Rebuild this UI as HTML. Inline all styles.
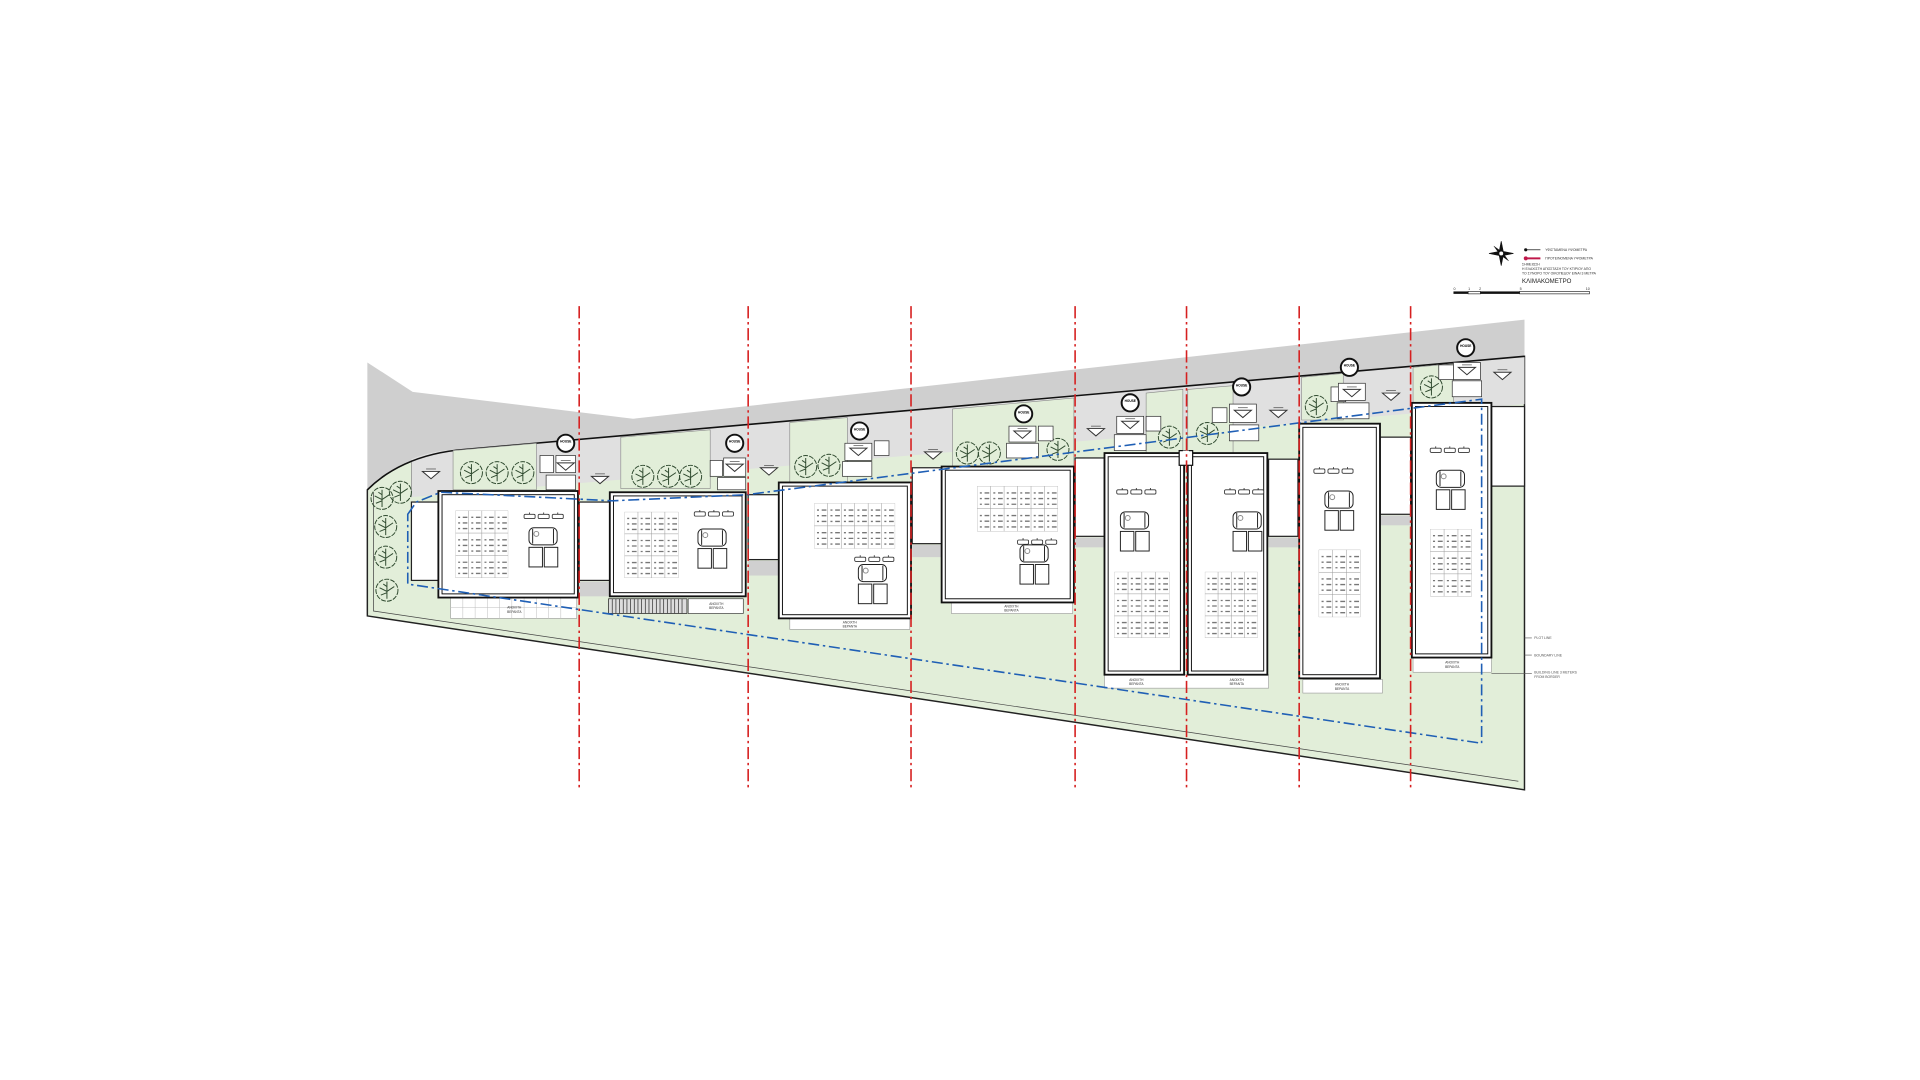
<!DOCTYPE html>
<html><head><meta charset="utf-8"><style>
html,body{margin:0;padding:0;background:#fff;width:1920px;height:1080px;overflow:hidden}
svg{display:block}
text{font-family:"Liberation Sans",sans-serif}
</style></head><body>
<svg width="1920" height="1080" viewBox="0 0 1568 882" xmlns="http://www.w3.org/2000/svg">
<defs>
<symbol id="g43" viewBox="0 0 4 3" preserveAspectRatio="none"><rect x="0" y="0" width="4" height="3" fill="#fff"/><path d="M0 0.3H4M0 0.55H4M0 0.8H4M0 1.3H4M0 1.55H4M0 1.8H4M0 2.3H4M0 2.55H4M0 2.8H4" stroke="#777" stroke-width="0.06" stroke-dasharray="0.15 0.2 0.35 0.3" stroke-dashoffset="-0.2"/><g fill="none" stroke="#999"><rect x="0" y="0" width="4" height="3" vector-effect="non-scaling-stroke" stroke-width="0.5"/><path d="M1 0V3M2 0V3M3 0V3M0 1H4M0 2H4" vector-effect="non-scaling-stroke" stroke-width="0.5"/></g></symbol>
<symbol id="g62" viewBox="0 0 6 2" preserveAspectRatio="none"><rect x="0" y="0" width="6" height="2" fill="#fff"/><path d="M0 0.3H6M0 0.55H6M0 0.8H6M0 1.3H6M0 1.55H6M0 1.8H6" stroke="#777" stroke-width="0.06" stroke-dasharray="0.15 0.2 0.35 0.3" stroke-dashoffset="-0.2"/><g fill="none" stroke="#999"><rect x="0" y="0" width="6" height="2" vector-effect="non-scaling-stroke" stroke-width="0.5"/><path d="M1 0V2M2 0V2M3 0V2M4 0V2M5 0V2M0 1H6" vector-effect="non-scaling-stroke" stroke-width="0.5"/></g></symbol>
<symbol id="g33" viewBox="0 0 3 3" preserveAspectRatio="none"><rect x="0" y="0" width="3" height="3" fill="#fff"/><path d="M0 0.3H3M0 0.55H3M0 0.8H3M0 1.3H3M0 1.55H3M0 1.8H3M0 2.3H3M0 2.55H3M0 2.8H3" stroke="#777" stroke-width="0.06" stroke-dasharray="0.15 0.2 0.35 0.3" stroke-dashoffset="-0.2"/><g fill="none" stroke="#999"><rect x="0" y="0" width="3" height="3" vector-effect="non-scaling-stroke" stroke-width="0.5"/><path d="M1 0V3M2 0V3M0 1H3M0 2H3" vector-effect="non-scaling-stroke" stroke-width="0.5"/></g></symbol>
<g id="pv" fill="#fff" stroke="#333" stroke-width="0.7"><rect x="0" y="0" width="9" height="3.5" rx="1"/><rect x="11.5" y="0" width="9" height="3.5" rx="1"/><rect x="23" y="0" width="9" height="3.5" rx="1"/><path d="M4.5 0v-1.5M16 0v-1.5M27.5 0v-1.5"/></g>
<g id="bed" fill="#fff" stroke="#222" stroke-width="0.8"><rect x="0" y="0" width="23" height="14" rx="4"/><path d="M3 1v12M20 1v12"/><circle cx="6" cy="5" r="2" stroke="#888"/><rect x="0" y="16" width="11" height="16"/><rect x="12.5" y="16" width="11" height="16"/></g>
<g id="arr" fill="#fff" stroke="#333" stroke-width="0.8"><path d="M-7 -2h14l-7 6z"/><path d="M-4 -4h8" stroke-width="0.5"/></g>
<g id="tree" fill="none" stroke="#2f4a2f" stroke-width="0.8"><circle r="9" stroke-dasharray="4 1"/><path d="M0 -7v14M-6 -2l6 3 6-4M-5 4l5-2M-3 -5l3 2"/></g>
<g id="hc"><circle r="7" fill="#fff" stroke="#111" stroke-width="1.6"/><text y="-0.5" font-size="2.6" text-anchor="middle" font-weight="bold">HOUSE</text></g>
</defs>

<!-- site green -->
<path d="M300 400 C 315 385, 340 370, 380 367 L1245 291 L1245 645 L300 503 Z" fill="#e2eed9" stroke="#222" stroke-width="1.2"/>
<path d="M305 402 L305 499 L1240 638" fill="none" stroke="#444" stroke-width="0.6"/>
<!-- road -->
<path d="M300 296 L337 320 L517 342 L1245 261 L1245 291 L380 367 C 340 370, 315 385, 300 400 Z" fill="#cfcfcf"/>
<!-- gray bay band -->
<path d="M336 406 L336 375 C 350 369, 365 367, 380 367 L1245 291 L1245 330 Z" fill="#e0e0e0" stroke="none"/>
<path d="M336 376 L336 406" stroke="#777" stroke-width="0.5"/>
<path d="M300 400 C 315 385, 340 370, 380 367 L1245 291" fill="none" stroke="#111" stroke-width="1.3"/>
<!-- gardens -->
<g fill="#e2eed9" stroke="#888" stroke-width="0.5">
<path d="M370 368 L438 362 L438 400 L370 400Z"/>
<path d="M507 357 L580 351 L580 399 L507 399Z"/>
<path d="M645 345 L692 341 L692 394 L645 394Z"/>
<path d="M778 334 L877 325 L877 381 L778 381Z"/>
<path d="M936 321 L966 318 L966 370 L936 370Z"/>
<path d="M970 318 L1007 315 L1007 370 L970 370Z"/>
<path d="M1063 308 L1097 305 L1097 343 L1063 343Z"/>
<path d="M1154 300 L1187 297 L1187 330 L1154 330Z"/>
</g>
<!-- trees -->
<g>
<use href="#tree" x="312" y="407"/><use href="#tree" x="327" y="402"/><use href="#tree" x="315" y="430"/><use href="#tree" x="315" y="455"/><use href="#tree" x="316" y="482"/>
<use href="#tree" x="385" y="386"/><use href="#tree" x="406" y="386"/><use href="#tree" x="427" y="386"/>
<use href="#tree" x="525" y="389"/><use href="#tree" x="546" y="389"/><use href="#tree" x="564" y="389"/>
<use href="#tree" x="658" y="381"/><use href="#tree" x="677" y="380"/>
<use href="#tree" x="790" y="370"/><use href="#tree" x="808" y="370"/><use href="#tree" x="864" y="367"/>
<use href="#tree" x="955" y="357"/><use href="#tree" x="986" y="354"/>
<use href="#tree" x="1075" y="332"/><use href="#tree" x="1169" y="316"/>
</g>
<!-- small service boxes -->
<g fill="#fff" stroke="#333" stroke-width="0.6">
<rect x="441" y="372" width="11" height="14"/><rect x="454" y="372" width="16" height="14"/><rect x="446" y="388" width="24" height="12"/>
<rect x="580" y="376" width="10" height="13"/><rect x="591" y="374" width="18" height="15"/><rect x="586" y="390" width="23" height="10"/>
<rect x="690" y="362" width="22" height="14"/><rect x="714" y="360" width="12" height="12"/><rect x="688" y="377" width="24" height="12"/>
<rect x="824" y="348" width="22" height="13"/><rect x="848" y="348" width="12" height="12"/><rect x="822" y="362" width="26" height="12"/>
<rect x="912" y="340" width="22" height="14"/><rect x="936" y="340" width="12" height="12"/><rect x="910" y="355" width="26" height="13"/>
<rect x="990" y="333" width="12" height="12"/><rect x="1004" y="330" width="22" height="15"/><rect x="1004" y="347" width="24" height="13"/>
<rect x="1087" y="316" width="12" height="12"/><rect x="1093" y="313" width="22" height="14"/><rect x="1092" y="329" width="26" height="13"/>
<rect x="1175" y="298" width="12" height="12"/><rect x="1187" y="296" width="22" height="14"/><rect x="1186" y="311" width="24" height="13"/>
</g>
<!-- arrows -->
<g>
<use href="#arr" x="352" y="387"/><use href="#arr" x="490" y="391"/><use href="#arr" x="628" y="384"/><use href="#arr" x="762" y="371"/>
<use href="#arr" x="895" y="352"/><use href="#arr" x="1044" y="337"/><use href="#arr" x="1136" y="323"/><use href="#arr" x="1227" y="306"/>
<use href="#arr" x="462" y="380"/><use href="#arr" x="600" y="381"/><use href="#arr" x="701" y="368"/><use href="#arr" x="835" y="354"/>
<use href="#arr" x="923" y="346"/><use href="#arr" x="1015" y="337"/><use href="#arr" x="1104" y="320"/><use href="#arr" x="1198" y="302"/>
</g>
<!-- house circles -->
<use href="#hc" x="462" y="362"/><use href="#hc" x="600" y="362"/><use href="#hc" x="702" y="352"/><use href="#hc" x="836" y="338"/>
<use href="#hc" x="923" y="329"/><use href="#hc" x="1014" y="316"/><use href="#hc" x="1102" y="300"/><use href="#hc" x="1197" y="284"/>

<!-- carports -->
<g fill="#fff" stroke="#222" stroke-width="1">
<rect x="336" y="410" width="22" height="64"/><rect x="473" y="410" width="25" height="64"/><rect x="611" y="404" width="25" height="53"/>
<rect x="745" y="382" width="24" height="62"/><rect x="878" y="374" width="24" height="64"/><rect x="1036" y="375" width="24" height="63"/>
<rect x="1127" y="357" width="25" height="63"/><rect x="1218" y="332" width="27" height="65"/>
</g>
<g fill="#d0d0d0" stroke="none">
<rect x="473" y="475" width="25" height="12"/><rect x="611" y="458" width="25" height="12"/><rect x="745" y="445" width="24" height="10"/>
<rect x="878" y="439" width="24" height="8"/><rect x="1036" y="439" width="24" height="8"/><rect x="1127" y="421" width="25" height="8"/>
</g>

<!-- terraces -->
<g fill="#fff" stroke="#999" stroke-width="0.5">
<rect x="368" y="487" width="103" height="18"/><rect x="645" y="505" width="98" height="9"/><rect x="777" y="492" width="99" height="9"/>
<rect x="902" y="551" width="134" height="11"/><rect x="1064" y="555" width="65" height="11"/><rect x="1154" y="537" width="64" height="12"/>
<rect x="562" y="489" width="45" height="12" stroke="#222"/>
</g>
<g stroke="#bbb" stroke-width="0.4"><path d="M378 487v18M388 487v18M398 487v18M408 487v18M418 487v18M428 487v18M438 487v18M448 487v18M458 487v18M368 496h103"/></g>
<rect x="497" y="489" width="64" height="12" fill="#ddd" stroke="#222" stroke-width="0.6"/>
<path d="M500 489v12M503 489v12M506 489v12M509 489v12M512 489v12M515 489v12M518 489v12M521 489v12M524 489v12M527 489v12M530 489v12M533 489v12M536 489v12M539 489v12M542 489v12M545 489v12M548 489v12M551 489v12M554 489v12M557 489v12" stroke="#333" stroke-width="0.6"/>
<g font-size="2.6" text-anchor="middle" fill="#333">
<text x="420" y="497">ΑΝΟΙΧΤΗ</text><text x="420" y="500.5">ΒΕΡΑΝΤΑ</text>
<text x="585" y="494">ΑΝΟΙΧΤΗ</text><text x="585" y="497.5">ΒΕΡΑΝΤΑ</text>
<text x="694" y="509">ΑΝΟΙΧΤΗ</text><text x="694" y="512.5">ΒΕΡΑΝΤΑ</text>
<text x="826" y="496">ΑΝΟΙΧΤΗ</text><text x="826" y="499.5">ΒΕΡΑΝΤΑ</text>
<text x="928" y="556">ΑΝΟΙΧΤΗ</text><text x="928" y="559.5">ΒΕΡΑΝΤΑ</text>
<text x="1010" y="556">ΑΝΟΙΧΤΗ</text><text x="1010" y="559.5">ΒΕΡΑΝΤΑ</text>
<text x="1096" y="560">ΑΝΟΙΧΤΗ</text><text x="1096" y="563.5">ΒΕΡΑΝΤΑ</text>
<text x="1186" y="542">ΑΝΟΙΧΤΗ</text><text x="1186" y="545.5">ΒΕΡΑΝΤΑ</text>
</g>

<!-- houses -->
<g fill="#fff" stroke="#111" stroke-width="1.5">
<rect x="358" y="401" width="114" height="87"/><rect x="498" y="402" width="111" height="85"/><rect x="636" y="394" width="108" height="111"/>
<rect x="769" y="381" width="108" height="111"/><rect x="902" y="370" width="65" height="181"/><rect x="970" y="370" width="65" height="181"/>
<rect x="1061" y="346" width="66" height="208"/><rect x="1153" y="329" width="65" height="208"/>
</g>
<g fill="none" stroke="#111" stroke-width="0.8">
<rect x="361" y="404" width="108" height="81"/><rect x="501" y="405" width="105" height="79"/><rect x="639" y="397" width="102" height="105"/>
<rect x="772" y="384" width="102" height="105"/><rect x="905" y="373" width="59" height="175"/><rect x="973" y="373" width="59" height="175"/>
<rect x="1064" y="349" width="60" height="202"/><rect x="1156" y="332" width="59" height="202"/>
</g>
<rect x="963" y="368" width="11" height="12" fill="#fff" stroke="#111" stroke-width="1"/>
<rect x="966" y="368" width="5" height="10" fill="#fff" stroke="none"/>

<!-- grids -->
<use href="#g43" x="372" y="417" width="43" height="55"/>
<use href="#g43" x="510" y="418" width="44" height="54"/>
<use href="#g62" x="665" y="411" width="66" height="37"/>
<use href="#g62" x="798" y="397" width="66" height="37"/>
<use href="#g43" x="910" y="467" width="45" height="54"/>
<use href="#g43" x="984" y="467" width="43" height="54"/>
<use href="#g33" x="1077" y="449" width="34" height="55"/>
<use href="#g33" x="1168" y="432" width="34" height="55"/>
<!-- panels & beds -->
<use href="#pv" x="428" y="420"/><use href="#bed" x="432" y="431"/>
<use href="#pv" x="567" y="418"/><use href="#bed" x="570" y="432"/>
<use href="#pv" x="698" y="455"/><use href="#bed" x="701" y="461"/>
<use href="#pv" x="831" y="441"/><use href="#bed" x="833" y="445"/>
<use href="#pv" x="912" y="400"/><use href="#bed" x="915" y="418"/>
<use href="#pv" x="1000" y="400"/><use href="#bed" x="1007" y="418"/>
<use href="#pv" x="1073" y="383"/><use href="#bed" x="1082" y="401"/>
<use href="#pv" x="1168" y="366"/><use href="#bed" x="1173" y="384"/>

<!-- blue building line -->
<path d="M333 420 L340 410 L360 402 L500 409 L610 404 L1210 326 L1210 607 L333 477 Z" fill="none" stroke="#1f5fb5" stroke-width="1.3" stroke-dasharray="9 3 2 3"/>

<!-- red dashed lines -->
<g stroke="#d62020" stroke-width="1.3" stroke-dasharray="10 3 2 3">
<path d="M473 250V645M611 250V645M744 250V645M878 250V645M969 250V645M1061 250V645M1152 250V645"/>
</g>

<!-- right annotations -->
<g stroke="#555" stroke-width="0.5"><path d="M1245 521h6M1245 535h6M1218 550h33"/></g>
<g font-size="2.8" fill="#555"><text x="1253" y="522">PLOT LINE</text><text x="1253" y="536">BOUNDARY LINE</text><text x="1253" y="550">BUILDING LINE 3 METERS</text><text x="1253" y="553.5">FROM BORDER</text></g>

<!-- legend -->
<g transform="translate(1226,207)" stroke="#111" fill="#111">
<path d="M0 -10 L2 0 L0 10 L-2 0Z M-10 0 L0 -2 L10 0 L0 2Z" stroke-width="0.5"/>
<path d="M-6 -6 L1 -1 L6 6 L-1 1Z" stroke-width="0.3"/>
<circle r="2" fill="#fff" stroke-width="0.8"/>
</g>
<circle cx="1246" cy="204" r="1.3" fill="#111"/><path d="M1246 204h12" stroke="#111" stroke-width="0.6"/>
<circle cx="1246" cy="211" r="1.6" fill="#c0184a"/><path d="M1246 211h12" stroke="#c0184a" stroke-width="1.6"/>
<g font-size="2.8" fill="#333"><text x="1262" y="205">ΥΦΙΣΤΑΜΕΝΑ ΥΨΟΜΕΤΡΑ</text><text x="1262" y="212">ΠΡΟΤΕΙΝΟΜΕΝΑ ΥΨΟΜΕΤΡΑ</text>
<text x="1243" y="217">ΣΗΜΕΙΩΣΗ</text><text x="1243" y="220.5">Η ΕΛΑΧΙΣΤΗ ΑΠΟΣΤΑΣΗ ΤΟΥ ΚΤΙΡΙΟΥ ΑΠΟ</text><text x="1243" y="224">ΤΟ ΣΥΝΟΡΟ ΤΟΥ ΟΙΚΟΠΕΔΟΥ ΕΙΝΑΙ 3 ΜΕΤΡΑ</text></g>
<text x="1243" y="231" font-size="5" fill="#222">ΚΛΙΜΑΚΟΜΕΤΡΟ</text>
<g font-size="3" fill="#333"><text x="1187" y="237">0</text><text x="1199" y="237">1</text><text x="1208" y="237">2</text><text x="1241" y="237">5</text><text x="1295" y="237">10</text></g>
<rect x="1187" y="238" width="12" height="2" fill="#111"/><rect x="1199" y="238" width="10" height="2" fill="#fff" stroke="#111" stroke-width="0.5"/>
<rect x="1209" y="238" width="32" height="2" fill="#111"/><rect x="1241" y="238" width="57" height="2" fill="#fff" stroke="#111" stroke-width="0.5"/>
</svg>
</body></html>
